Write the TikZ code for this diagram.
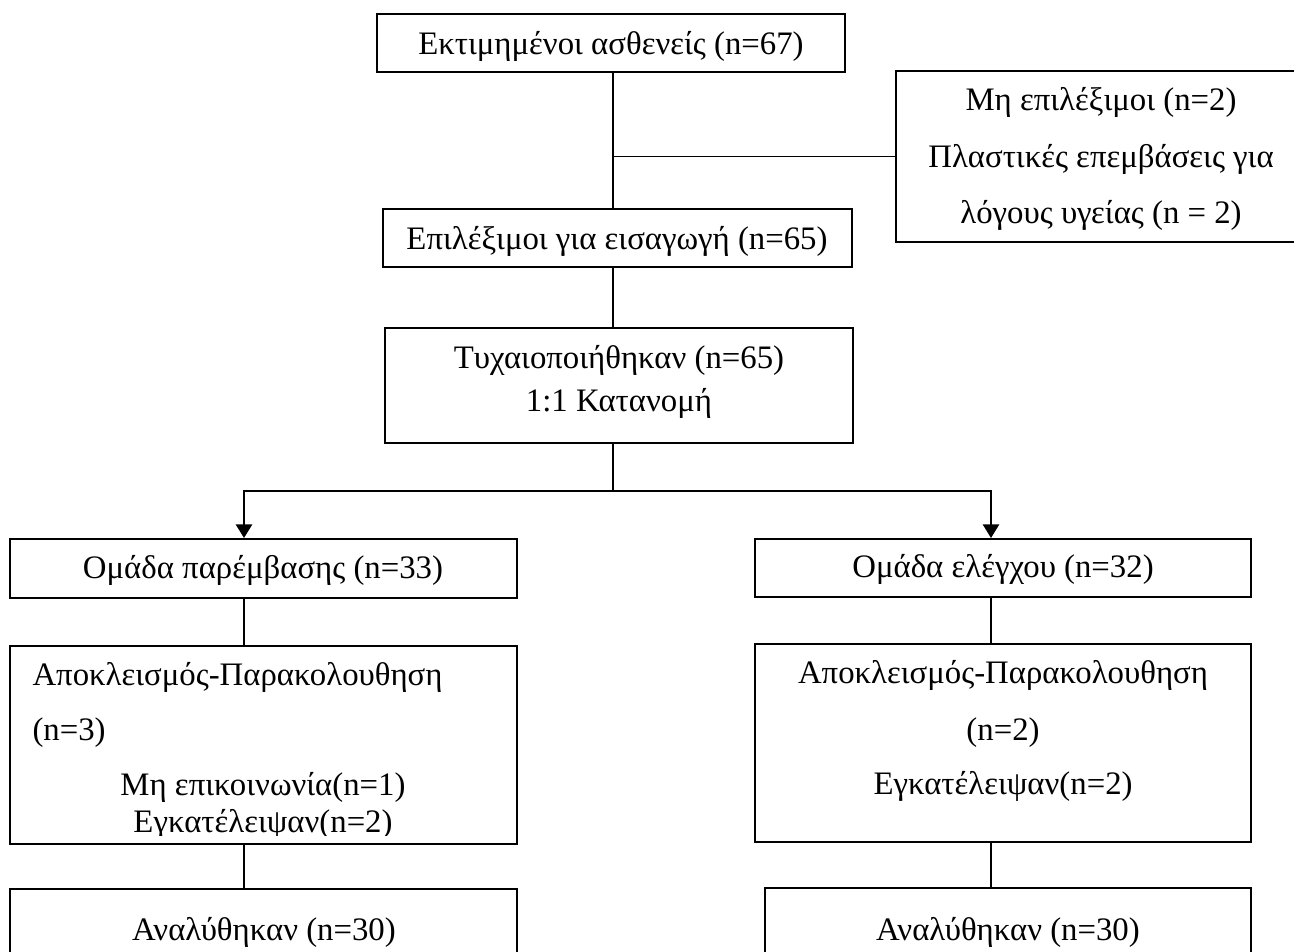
\documentclass[tikz,border=0pt]{standalone}
\usepackage{fontspec}
\setmainfont{Liberation Serif}
\usetikzlibrary{fit,arrows.meta}
\tikzset{
  box/.style={draw, line width=0.75pt, inner sep=0pt},
  txt/.style={font=\fontsize{12pt}{14pt}\selectfont, inner sep=0pt, anchor=base},
  link/.style={line width=0.6pt},
  tip/.style={-{Triangle[width=6pt,length=5pt]}}
}
\begin{document}
\begin{tikzpicture}[x=0.01286cm,y=-0.01286cm]
    \useasboundingbox (0,0) rectangle (1294,951);
    \clip (0,0) rectangle (1294,951);
    %% Enrollment
    \node[box,fit={(377,14) (845,72)}] (assessed) {};
    \node[txt] (assessed1) at (611,54) {Εκτιμημένοι ασθενείς (n=67)};
    \node[box,fit={(896,71) (1306,242)}] (excluded) {};
    \node[txt] (excl1) at (1101,110) {Μη επιλέξιμοι (n=2)};
    \node[txt] (excl2) at (1101,167) {Πλαστικές επεμβάσεις για};
    \node[txt] (excl3) at (1101,223) {λόγους υγείας (n = 2)};
    \node[box,fit={(383,209) (852,267)}] (eligible) {};
    \node[txt] (eligible1) at (617,249) {Επιλέξιμοι για εισαγωγή (n=65)};
    \node[box,fit={(385,328) (853,443)}] (random) {};
    \node[txt] (rand1) at (619,368) {Τυχαιοποιήθηκαν (n=65)};
    \node[txt] (rand2) at (619,411) {1:1 Κατανομή};
    %% Allocation
    \node[box,fit={(10,539) (517,598)}] (interv) {};
    \node[txt] (interv1) at (263,578) {Ομάδα παρέμβασης (n=33)};
    \node[box,fit={(755,539) (1251,597)}] (control) {};
    \node[txt] (control1) at (1003,577) {Ομάδα ελέγχου (n=32)};
    %% Follow-up
    \node[box,fit={(10,646) (517,844)}] (lossL) {};
    \node[txt,anchor=base west] (lossL1) at (32,685) {Αποκλεισμός-Παρακολουθηση};
    \node[txt,anchor=base west] (lossL2) at (32,740) {(n=3)};
    \node[txt] (lossL3) at (263,795) {Μη επικοινωνία(n=1)};
    \begin{scope}
        \clip (10,646) rectangle (517,835);
        \node[txt] (lossL4) at (263,832) {Εγκατέλειψαν(n=2)};
    \end{scope}
    \node[box,fit={(755,644) (1251,842)}] (lossR) {};
    \node[txt] (lossR1) at (1003,683) {Αποκλεισμός-Παρακολουθηση};
    \node[txt] (lossR2) at (1003,740) {(n=2)};
    \node[txt] (lossR3) at (1003,794) {Εγκατέλειψαν(n=2)};
    %% Analysis
    \node[box,fit={(10,889) (517,1000)}] (analL) {};
    \node[txt] (analL1) at (264,940) {Αναλύθηκαν (n=30)};
    \node[box,fit={(765,888) (1251,1000)}] (analR) {};
    \node[txt] (analR1) at (1008,940) {Αναλύθηκαν (n=30)};
    %% Connectors
    \coordinate (spine) at (613,0);
    \coordinate (split) at (613,491);
    \coordinate (colL) at (244,0);
    \coordinate (colR) at (991,0);
    \draw[link] (spine |- assessed.south) -- (spine |- eligible.north);
    \draw[link] (spine |- excluded.west) -- (excluded.west);
    \draw[link] (spine |- eligible.south) -- (spine |- random.north);
    \draw[link] (spine |- random.south) -- (split);
    \draw[link,tip] (split) -| (colL |- interv.north);
    \draw[link,tip] (split) -| (colR |- control.north);
    \foreach \c/\a/\b/\d in {colL/interv/lossL/analL, colR/control/lossR/analR} {
        \draw[link] (\c |- \a.south) -- (\c |- \b.north);
        \draw[link] (\c |- \b.south) -- (\c |- \d.north);
    }
\end{tikzpicture}
\end{document}
